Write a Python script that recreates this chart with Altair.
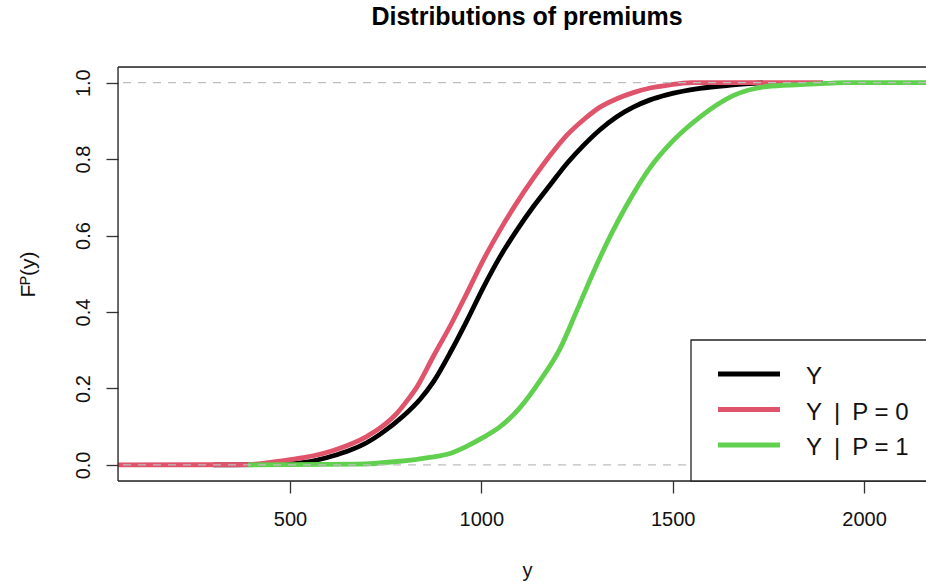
import altair as alt
import pandas as pd

FONT = "Liberation Sans, Arial, Helvetica, sans-serif"

names = ["Y", "Y\u2002|\u2002P = 0", "Y\u2002|\u2002P = 1"]
colors = ["#000000", "#DF536B", "#61D04F"]

# ECDF of Y (all)
x_all = [300, 480, 552, 613, 648, 700, 735, 796, 840, 875, 922, 962, 1005, 1049, 1092,
         1136, 1180, 1223, 1267, 1310, 1354, 1397, 1441, 1484, 1571, 1658, 1736]
F_all = [0, 0.002, 0.009, 0.024, 0.035, 0.058, 0.08, 0.128, 0.172, 0.218, 0.3, 0.377,
         0.464, 0.545, 0.613, 0.676, 0.733, 0.788, 0.836, 0.877, 0.911, 0.936, 0.955,
         0.968, 0.985, 0.994, 1.0]

# ECDF of Y | P = 0
x_p0 = [20, 388, 474, 526, 561, 613, 648, 700, 740, 779, 805, 831, 875, 922, 962, 1005, 1049,
        1092, 1136, 1180, 1223, 1267, 1310, 1354, 1397, 1441, 1484, 1550, 1893]
F_p0 = [0, 0.001, 0.01, 0.018, 0.024, 0.038, 0.05, 0.074, 0.1, 0.135, 0.167, 0.203, 0.285,
        0.37, 0.449, 0.536, 0.615, 0.685, 0.75, 0.81, 0.862, 0.903, 0.936, 0.958, 0.974,
        0.986, 0.993, 1.0, 1.0]

# ECDF of Y | P = 1
x_p1 = [390, 672, 779, 866, 918, 960, 1005, 1049, 1101, 1153, 1206, 1250, 1293, 1340, 1380,
        1441, 1493, 1537, 1571, 1620, 1658, 1746, 1833, 1900, 1950, 2200]
F_p1 = [0, 0.002, 0.009, 0.02, 0.03, 0.048, 0.072, 0.1, 0.15, 0.22, 0.305, 0.405, 0.505,
        0.605, 0.68, 0.778, 0.84, 0.882, 0.91, 0.945, 0.966, 0.99, 0.995, 0.998, 1.0, 1.0]

x_ticks = [500, 1000, 1500, 2000]
y_ticks = [0.0, 0.2, 0.4, 0.6, 0.8, 1.0]
ref_levels = [0, 1]

W, H = 808, 414

xs = alt.Scale(domain=[50.4, 2162], nice=False, zero=False)
ys = alt.Scale(domain=[-0.042, 1.041], nice=False, zero=False)
cs = alt.Scale(domain=names, range=colors)

x_axis = alt.Axis(values=x_ticks, format="d", tickSize=12, tickColor="#333", tickWidth=1.3,
                  domain=False, grid=False, labelFontSize=20, labelFont=FONT, labelColor="#111",
                  labelPadding=26, labelBaseline="middle", labelFlush=False,
                  title="y", titleFont=FONT, titleFontSize=20, titleFontWeight="normal",
                  titleX=409, titleY=95, titleBaseline="alphabetic", titleAlign="center",
                  titleColor="#111")
y_axis = alt.Axis(values=y_ticks, format=".1f", tickSize=12, tickColor="#333", tickWidth=1.3,
                  domain=False, grid=False, labelFontSize=20, labelFont=FONT, labelColor="#111",
                  labelAngle=270, labelAlign="center", labelBaseline="bottom", labelPadding=13,
                  labelFlush=False,
                  title="F\u1d3e(y)", titleFont=FONT, titleFontSize=21, titleFontWeight="normal",
                  titleAngle=270, titleX=-90, titleY=207, titleAlign="center",
                  titleBaseline="middle", titleColor="#111")


def curve(xv, fv, name):
    df = pd.DataFrame({"x": xv, "F": fv, "series": name})
    return alt.Chart(df).mark_line(strokeWidth=4.8, interpolate="monotone", clip=True).encode(
        x=alt.X("x:Q", scale=xs, axis=x_axis),
        y=alt.Y("F:Q", scale=ys, axis=y_axis),
        color=alt.Color("series:N", scale=cs, legend=None),
    )


c_all = curve(x_all, F_all, names[0])
c_p0 = curve(x_p0, F_p0, names[1])
c_p1 = curve(x_p1, F_p1, names[2])

refs = alt.Chart(pd.DataFrame({"F": ref_levels})).mark_rule(
    color="#BEBEBE", strokeWidth=1.2, strokeDash=[8, 7]
).encode(y=alt.Y("F:Q", scale=ys, axis=y_axis))

frame_left = alt.Chart().mark_rule(color="#222", strokeWidth=1.3).encode(
    x=alt.value(0), y=alt.value(0), y2=alt.value(H))
frame_top = alt.Chart().mark_rule(color="#222", strokeWidth=1.3).encode(
    x=alt.value(0), x2=alt.value(W + 5), y=alt.value(0))
frame_bot = alt.Chart().mark_rule(color="#222", strokeWidth=1.3).encode(
    x=alt.value(0), x2=alt.value(W + 5), y=alt.value(H))

plot_layer = alt.layer(c_all, c_p0, c_p1, refs, frame_left, frame_top, frame_bot)

leg_df = pd.DataFrame({"series": names})
leg_y = alt.Y("series:N", scale=alt.Scale(domain=names, range=[289.25, 395.75]), axis=None)

leg_box = alt.Chart().mark_rect(fill="white", stroke="#222", strokeWidth=1.3).encode(
    x=alt.value(573), x2=alt.value(W + 10), y=alt.value(273), y2=alt.value(H))
leg_lines = alt.Chart(leg_df).mark_rule(strokeWidth=5).encode(
    x=alt.value(600), x2=alt.value(662), y=leg_y,
    color=alt.Color("series:N", scale=cs, legend=None))
leg_text = alt.Chart(leg_df).mark_text(
    align="left", baseline="middle", fontSize=24, font=FONT, color="#111", dy=3
).encode(x=alt.value(688), y=leg_y, text="series:N")

legend_layer = alt.layer(leg_box, leg_lines, leg_text)

chart = alt.layer(plot_layer, legend_layer).resolve_scale(y="independent").properties(
    width=W, height=H,
    title=alt.TitleParams("Distributions of premiums", font=FONT, fontSize=25,
                          fontWeight="bold", anchor="middle", dx=5, offset=16,
                          baseline="alphabetic", color="#000"),
    padding={"left": 118, "top": 67, "right": 0, "bottom": 103},
    autosize=alt.AutoSizeParams(type="none"),
).configure_view(stroke=None).configure(background="white")

chart.save("out.html", embed_options={"renderer": "svg", "actions": False})
